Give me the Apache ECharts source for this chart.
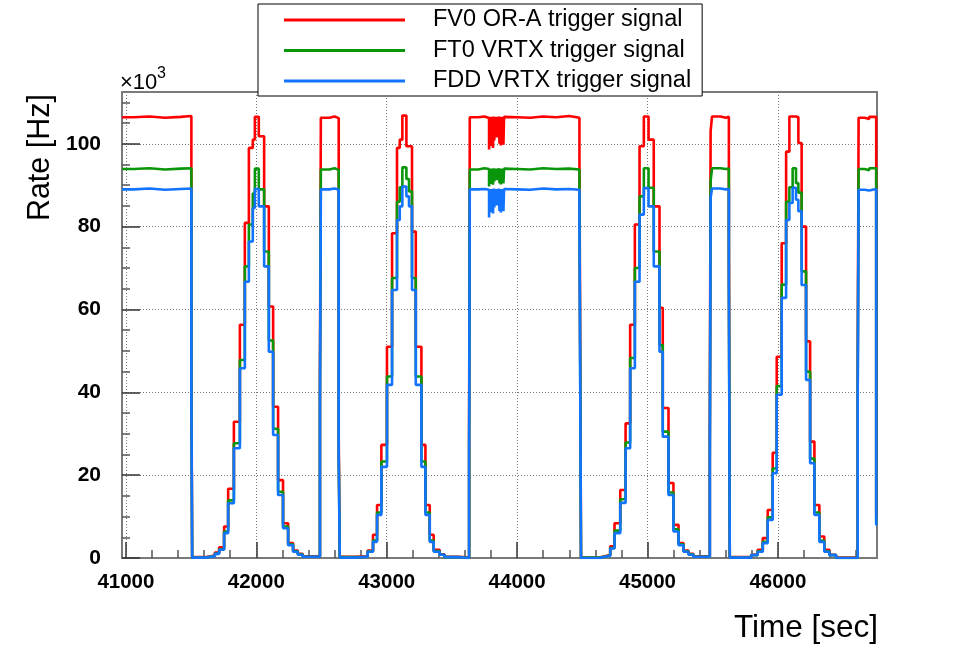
<!DOCTYPE html>
<html><head><meta charset="utf-8">
<script src="https://cdn.jsdelivr.net/npm/echarts@6/dist/echarts.min.js"></script>
<style>html,body{margin:0;padding:0;background:#fff}#c{width:964px;height:646px}</style>
</head><body><div id="c"></div>
<script>
// ---- data (rates in units of 10^3 Hz), step histogram bin starts ----
const times = [
 40970, 41060, 41180, 41300, 41420, 41502, 41508,
 41605, 41682, 41715, 41753, 41784, 41828, 41874, 41912, 41943, 41973, 41989,
 42019, 42060, 42096, 42129, 42167, 42205, 42244, 42282, 42318, 42356,
 42488, 42495, 42560, 42600, 42632, 42640,
 42755, 42854, 42895, 42926, 42959, 43002, 43041, 43079, 43100, 43120,
 43151, 43171, 43194, 43223, 43266, 43297, 43330, 43360, 43406, 43444, 43559,
 43632, 43637, 43700, 43750,
 43785, 43790, 43795, 43800, 43805, 43810, 43815, 43820, 43825, 43830,
 43835, 43840, 43845, 43850, 43855, 43860, 43865, 43870, 43875, 43880,
 43885, 43890, 43895, 43900, 43905,
 44000, 44100, 44200, 44300, 44400, 44478, 44484, 44490,
 44632, 44671, 44714, 44747, 44791, 44832, 44867, 44903, 44939, 44972,
 45008, 45048, 45092, 45117, 45161, 45199, 45238, 45276, 45314, 45352,
 45478, 45484, 45495, 45560, 45600, 45624, 45631,
 45795, 45845, 45884, 45922, 45960, 45991, 46029, 46063, 46088, 46113,
 46139, 46157, 46182, 46216, 46247, 46280, 46318, 46356, 46395, 46446,
 46612, 46619, 46665, 46700, 46754, 46760
];
const fv0 = [
 106.4, 106.6, 106.3, 106.5, 106.7, 47.0, 0.2,
 0.6, 1.3, 2.6, 7.6, 16.7, 32.9, 56.3, 80.9, 99.0, 101.0, 106.5,
 101.8, 84.9, 60.7, 36.5, 18.8, 8.4, 3.6, 1.8, 1.0, 0.4,
 44.0, 106.3, 106.6, 106.2, 29.0, 0.3,
 0.4, 1.8, 5.6, 12.8, 27.3, 51.0, 78.4, 99.0, 101.0, 106.8,
 99.4, 99.4, 78.8, 51.0, 27.3, 12.8, 5.6, 2.0, 0.9, 0.3, 0.1,
 30.0, 106.4, 106.6, 106.2,
 98.6, 106.3, 99.5, 106.5, 100.2, 106.2, 99.0, 106.6, 100.8, 106.4,
 102.5, 106.5, 101.5, 106.3, 103.0, 106.6, 100.0, 106.4, 99.6, 106.5,
 100.4, 106.2, 99.8, 106.5, 106.4,
 106.3, 106.6, 106.4, 106.7, 106.3, 97.0, 50.0, 0.1,
 0.4, 0.7, 2.8, 8.4, 16.4, 32.5, 56.3, 80.5, 99.4, 106.6,
 101.0, 84.9, 60.4, 36.2, 18.1, 8.0, 3.6, 1.8, 1.0, 0.4,
 29.0, 103.0, 106.6, 106.3, 106.5, 80.0, 0.2,
 0.8, 2.0, 4.8, 11.6, 25.4, 48.6, 76.0, 98.1, 106.6, 106.6,
 106.4, 100.2, 80.0, 52.3, 28.1, 12.8, 5.2, 2.0, 0.8, 0.1,
 46.0, 106.3, 106.0, 106.5, 10.0, 10.0
];
const ft0 = [
 93.9, 94.1, 93.8, 94.0, 94.1, 41.0, 0.1,
 0.5, 1.1, 2.1, 6.4, 13.9, 27.7, 47.8, 70.4, 80.5, 88.0, 94.0,
 89.0, 74.0, 52.5, 31.2, 16.0, 7.6, 3.3, 1.6, 0.9, 0.3,
 38.0, 93.8, 94.1, 93.7, 25.0, 0.2,
 0.3, 1.6, 4.2, 11.0, 23.3, 43.8, 67.6, 86.0, 89.5, 94.3,
 91.5, 88.5, 67.6, 43.8, 23.3, 11.0, 4.2, 1.7, 0.8, 0.2, 0.0,
 26.0, 93.8, 94.1, 93.9,
 89.7, 93.9, 90.3, 94.0, 90.6, 93.8, 90.1, 94.1, 90.9, 94.0,
 91.8, 94.0, 91.2, 93.9, 92.0, 94.1, 90.5, 93.9, 90.2, 94.0,
 90.7, 93.8, 90.4, 94.0, 93.9,
 93.8, 94.1, 93.9, 94.0, 93.8, 86.0, 44.0, 0.1,
 0.3, 0.6, 2.4, 6.6, 14.2, 27.9, 48.3, 70.0, 87.3, 94.1,
 89.4, 74.0, 51.4, 30.5, 15.8, 6.9, 3.3, 1.6, 0.9, 0.3,
 25.0, 91.0, 94.1, 93.9, 94.0, 70.0, 0.1,
 0.7, 1.6, 3.9, 9.8, 21.6, 41.5, 66.0, 86.0, 89.5, 94.1,
 90.5, 88.2, 69.2, 45.0, 24.0, 11.0, 4.2, 1.6, 0.7, 0.0,
 40.0, 93.9, 93.6, 94.1, 8.5, 8.5
];
const fdd = [
 89.0, 89.2, 88.9, 89.1, 89.2, 39.0, 0.1,
 0.4, 1.0, 2.0, 6.0, 13.2, 26.5, 45.8, 66.7, 76.4, 84.5, 89.1,
 84.9, 70.4, 49.8, 29.7, 15.2, 7.2, 3.1, 1.5, 0.8, 0.3,
 36.0, 89.0, 89.2, 88.9, 24.0, 0.1,
 0.3, 1.5, 3.9, 10.4, 22.0, 41.8, 64.7, 81.6, 84.9, 89.7,
 87.3, 84.9, 64.7, 41.8, 22.0, 10.4, 3.9, 1.5, 0.8, 0.2, 0.0,
 25.0, 89.0, 89.1, 88.9,
 82.2, 89.0, 83.5, 89.1, 84.0, 88.9, 83.2, 89.2, 84.6, 89.0,
 86.3, 89.1, 85.1, 89.0, 86.6, 89.2, 83.8, 89.0, 83.4, 89.1,
 84.2, 88.9, 83.7, 89.1, 89.0,
 88.9, 89.2, 89.0, 89.1, 88.9, 82.0, 42.0, 0.0,
 0.3, 0.5, 2.3, 6.0, 13.3, 26.5, 45.8, 66.7, 82.9, 89.3,
 84.9, 70.4, 49.8, 29.3, 15.2, 6.4, 3.1, 1.5, 0.8, 0.3,
 24.0, 87.0, 89.2, 89.0, 89.1, 67.0, 0.1,
 0.7, 1.5, 3.6, 9.2, 20.5, 39.4, 62.8, 81.6, 85.7, 89.4,
 86.5, 83.7, 65.9, 43.0, 22.9, 10.4, 3.9, 1.5, 0.7, 0.0,
 38.0, 88.9, 88.7, 89.1, 8.0, 8.0
];
const xTickLabels = [41000, 42000, 43000, 44000, 45000, 46000];
const yTickLabels = [0, 20, 40, 60, 80, 100];
const seriesNames = ['FV0 OR-A trigger signal', 'FT0 VRTX trigger signal', 'FDD VRTX trigger signal'];
const seriesValues = [fv0, ft0, fdd];
const seriesColors = ['#ff0000', '#0a960a', '#1273ff'];

if (fv0.length !== times.length || ft0.length !== times.length || fdd.length !== times.length) {
  throw new Error('length mismatch ' + times.length + ' ' + fv0.length + ' ' + ft0.length + ' ' + fdd.length);
}

const FONT = '"Liberation Sans", Arial, Helvetica, sans-serif';
const xMinor = []; for (let v = 41200; v <= 46600; v += 200) if (v % 1000) xMinor.push(v);
const yMinor = []; for (let v = 5; v <= 110; v += 5) if (v % 20) yMinor.push(v);
const XMIN = 40970, XMAX = 46760, YMAX = 112.5;

const chart = echarts.init(document.getElementById('c'), null, {renderer: 'canvas'});
chart.setOption({
  animation: false,
  backgroundColor: '#fff',
  grid: {left: 122, right: 87, top: 92, bottom: 88, show: true, borderColor: '#7a7a7a', borderWidth: 2, backgroundColor: '#fff'},
  legend: {
    orient: 'vertical', left: 258, top: 4, backgroundColor: '#fff', borderColor: '#000', borderWidth: 1,
    padding: [3, 11, 2, 26], itemWidth: 121, itemHeight: 3, itemGap: 4.5, z: 10,
    icon: 'rect',
    textStyle: {fontSize: 23.5, fontFamily: FONT, color: '#000', lineHeight: 26, padding: [0, 0, 0, 23]},
    data: seriesNames
  },
  xAxis: [
    {type: 'value', min: XMIN, max: XMAX,
     axisLine: {show: false},
     axisTick: {show: true, inside: true, length: 16, customValues: xTickLabels, lineStyle: {color: '#333', width: 1.5}},
     axisLabel: {customValues: xTickLabels, formatter: v => String(v), fontSize: 20.5, fontWeight: 'bold', fontFamily: FONT, color: '#000', margin: 14},
     splitLine: {show: true, lineStyle: {color: '#777', width: 1, type: [1, 2]}}},
    {type: 'value', min: XMIN, max: XMAX, position: 'bottom',
     axisLine: {show: false},
     axisTick: {show: true, inside: true, length: 8, customValues: xMinor, lineStyle: {color: '#555', width: 1.5}},
     axisLabel: {show: false}, splitLine: {show: false}}
  ],
  yAxis: [
    {type: 'value', min: 0, max: YMAX,
     axisLine: {show: false},
     axisTick: {show: true, inside: true, length: 18, customValues: yTickLabels, lineStyle: {color: '#333', width: 1.5}},
     axisLabel: {customValues: yTickLabels, formatter: v => String(v), fontSize: 21, fontWeight: 'bold', fontFamily: FONT, color: '#000', margin: 21},
     splitLine: {show: true, lineStyle: {color: '#777', width: 1, type: [1, 2]}}},
    {type: 'value', min: 0, max: YMAX, position: 'left',
     axisLine: {show: false},
     axisTick: {show: true, inside: true, length: 8, customValues: yMinor, lineStyle: {color: '#555', width: 1.5}},
     axisLabel: {show: false}, splitLine: {show: false}}
  ],
  series: seriesNames.map((name, k) => ({
    name, type: 'line', step: 'end', symbol: 'none', showSymbol: false,
    xAxisIndex: 0, yAxisIndex: 0, clip: true,
    data: times.map((t, i) => [t, seriesValues[k][i]]),
    lineStyle: {color: seriesColors[k], width: 2.6},
    itemStyle: {color: seriesColors[k]}
  })),
  graphic: [
    {type: 'text', x: 41, y: 94, rotation: Math.PI / 2,
     style: {text: 'Rate [Hz]', fontSize: 30.5, fontFamily: FONT, fill: '#000', align: 'right', verticalAlign: 'middle'}},
    {type: 'text', x: 878, y: 628,
     style: {text: 'Time [sec]', fontSize: 31.5, fontFamily: FONT, fill: '#000', align: 'right', verticalAlign: 'middle'}},
    {type: 'text', x: 120, y: 83,
     style: {text: '×10', fontSize: 22, fontFamily: FONT, fill: '#000', align: 'left', verticalAlign: 'middle'}},
    {type: 'text', x: 157, y: 74,
     style: {text: '3', fontSize: 16, fontFamily: FONT, fill: '#000', align: 'left', verticalAlign: 'middle'}}
  ]
});
</script></body></html>
